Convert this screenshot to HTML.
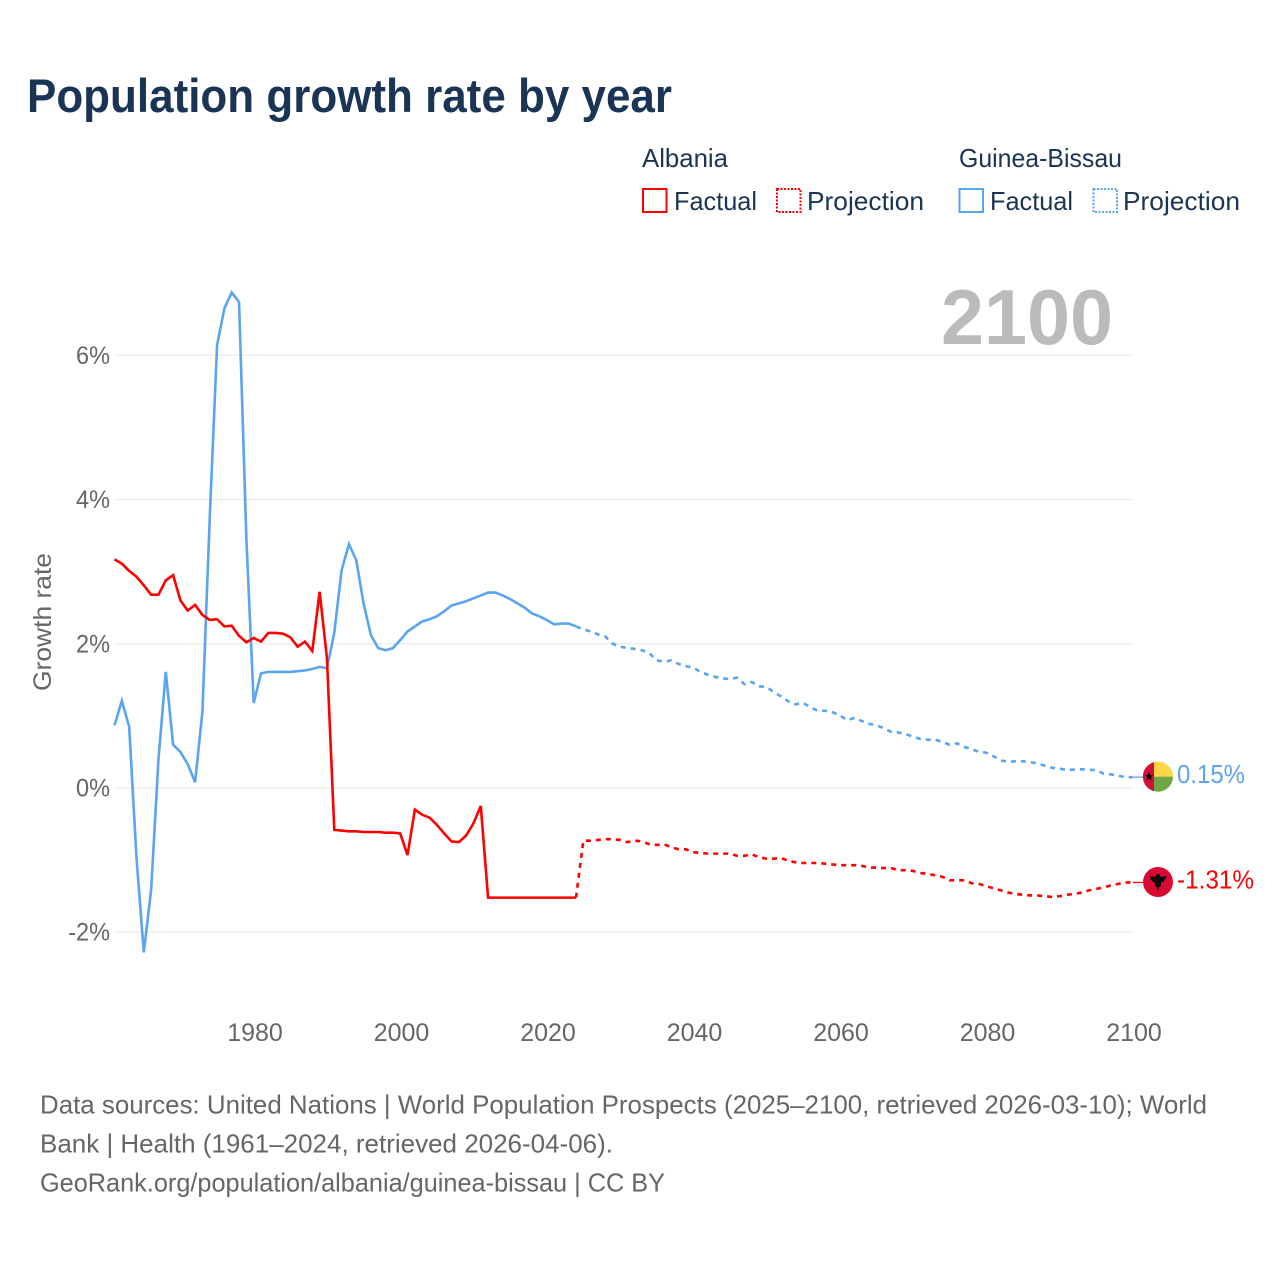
<!DOCTYPE html>
<html lang="en">
<head>
<meta charset="utf-8">
<title>Population growth rate by year</title>
<style>
html,body{margin:0;padding:0;background:#fff;width:1280px;height:1280px;overflow:hidden}
svg{display:block}
text{font-family:"Liberation Sans",sans-serif}
.leg{font-size:26px;fill:#1c3454}
.foot{font-size:26px;fill:#666}
.tick{font-size:25px;fill:#666}
</style>
</head>
<body>
<svg id="chart" width="1280" height="1280" viewBox="0 0 1280 1280" xmlns="http://www.w3.org/2000/svg">
  <rect width="1280" height="1280" fill="#fff"/>
  <text x="27" y="112" font-size="47" font-weight="700" fill="#1a3455" textLength="645" lengthAdjust="spacingAndGlyphs">Population growth rate by year</text>

  <g>
    <text class="leg" x="642" y="167" textLength="86" lengthAdjust="spacingAndGlyphs">Albania</text>
    <rect x="643" y="189" width="23.5" height="23" fill="none" stroke="#ff0000" stroke-width="2"/>
    <text class="leg" x="674" y="210" textLength="83" lengthAdjust="spacingAndGlyphs">Factual</text>
    <rect x="777" y="189" width="23.5" height="23" fill="none" stroke="#ff0000" stroke-width="2" stroke-dasharray="2 1.5"/>
    <text class="leg" x="807" y="210" textLength="117" lengthAdjust="spacingAndGlyphs">Projection</text>
    <text class="leg" x="959" y="167" textLength="163" lengthAdjust="spacingAndGlyphs">Guinea-Bissau</text>
    <rect x="959.5" y="189" width="23.5" height="23" fill="none" stroke="#5aa5ef" stroke-width="2"/>
    <text class="leg" x="990" y="210" textLength="83" lengthAdjust="spacingAndGlyphs">Factual</text>
    <rect x="1093.5" y="189" width="23.5" height="23" fill="none" stroke="#5aa5ef" stroke-width="2" stroke-dasharray="2 1.5"/>
    <text class="leg" x="1123" y="210" textLength="117" lengthAdjust="spacingAndGlyphs">Projection</text>
  </g>

  <g id="grid"></g>
  <g id="yticks"></g>
  <g id="xticks"></g>
  <text id="yearLabel" x="1113" y="344" text-anchor="end" font-size="78" font-weight="700" fill="#bbbbbb" textLength="172" lengthAdjust="spacingAndGlyphs"></text>
  <text class="tick" transform="translate(51,622) rotate(-90)" text-anchor="middle" textLength="138" lengthAdjust="spacingAndGlyphs">Growth rate</text>
  <g id="series"></g>
  <g id="markers"></g>

  <g>
    <text class="foot" x="40" y="1113.5" textLength="1167" lengthAdjust="spacingAndGlyphs">Data sources: United Nations | World Population Prospects (2025–2100, retrieved 2026-03-10); World</text>
    <text class="foot" x="40" y="1152.5" textLength="573" lengthAdjust="spacingAndGlyphs">Bank | Health (1961–2024, retrieved 2026-04-06).</text>
    <text class="foot" x="40" y="1191.5" textLength="625" lengthAdjust="spacingAndGlyphs">GeoRank.org/population/albania/guinea-bissau | CC BY</text>
  </g>
</svg>
<script>
const factualStartYear = 1961;
const projectionStartYear = 2024;
const xTickYears = [1980, 2000, 2020, 2040, 2060, 2080, 2100];
const yTickValues = [6, 4, 2, 0, -2];
const albaniaFactual = [
  3.17,3.11,3.01,2.93,2.81,2.68,2.68,2.88,2.95,2.6,
  2.46,2.54,2.4,2.33,2.34,2.24,2.25,2.11,2.02,2.08,
  2.03,2.15,2.15,2.14,2.09,1.96,2.03,1.9,2.72,1.8,
  -0.58,-0.59,-0.6,-0.6,-0.61,-0.61,-0.61,-0.62,-0.62,-0.63,
  -0.93,-0.3,-0.37,-0.41,-0.51,-0.63,-0.74,-0.75,-0.66,-0.49,
  -0.25,-1.52,-1.52,-1.52,-1.52,-1.52,-1.52,-1.52,-1.52,-1.52,
  -1.52,-1.52,-1.52,-1.52
];
const albaniaProjection = [
  -1.52,-0.73,-0.73,-0.72,-0.71,-0.71,-0.72,-0.75,-0.73,-0.74,
  -0.78,-0.79,-0.78,-0.82,-0.85,-0.85,-0.89,-0.9,-0.91,-0.91,
  -0.91,-0.91,-0.94,-0.94,-0.92,-0.96,-0.98,-0.98,-0.97,-1.01,
  -1.03,-1.04,-1.04,-1.04,-1.05,-1.06,-1.07,-1.07,-1.07,-1.08,
  -1.1,-1.105,-1.11,-1.11,-1.14,-1.14,-1.15,-1.18,-1.19,-1.21,
  -1.23,-1.28,-1.28,-1.28,-1.32,-1.33,-1.36,-1.39,-1.42,-1.45,
  -1.47,-1.48,-1.49,-1.49,-1.5,-1.51,-1.5,-1.48,-1.47,-1.45,
  -1.42,-1.4,-1.38,-1.35,-1.33,-1.31,-1.31
];
const guineaFactual = [
  0.87,1.21,0.85,-0.97,-2.28,-1.41,0.4,1.61,0.6,0.5,
  0.33,0.08,1.06,3.75,6.14,6.65,6.87,6.74,3.45,1.18,
  1.59,1.61,1.61,1.61,1.61,1.62,1.63,1.65,1.68,1.66,
  2.15,3.02,3.38,3.16,2.56,2.12,1.94,1.91,1.94,2.05,
  2.17,2.24,2.31,2.34,2.38,2.45,2.53,2.56,2.59,2.63,
  2.67,2.71,2.71,2.67,2.62,2.56,2.5,2.42,2.38,2.33,
  2.27,2.28,2.28,2.24
];
const guineaProjection = [
  2.24,2.2,2.17,2.13,2.1,2,1.96,1.94,1.93,1.91,
  1.87,1.77,1.75,1.77,1.72,1.69,1.67,1.61,1.57,1.54,
  1.52,1.51,1.53,1.44,1.47,1.41,1.4,1.33,1.27,1.2,
  1.16,1.18,1.12,1.07,1.07,1.05,1.01,0.94,0.97,0.93,
  0.89,0.87,0.83,0.78,0.77,0.75,0.71,0.68,0.67,0.67,
  0.64,0.6,0.62,0.57,0.54,0.5,0.49,0.44,0.38,0.365,
  0.37,0.37,0.36,0.34,0.31,0.28,0.27,0.25,0.255,0.26,
  0.25,0.25,0.2,0.19,0.17,0.15,0.15
];
const albaniaColor = '#ff0000';
const guineaColor = '#5aa5ef';
const NS = 'http://www.w3.org/2000/svg';

function xScale(year) { return 253.7 + (year - 1980) * 7.325; }
function xTickPos(year) { return 255 + (year - 1980) * 7.325; }
function yScale(value) { return 788 - value * 72.12; }
function make(tag, attrs) {
  const el = document.createElementNS(NS, tag);
  for (const k in attrs) el.setAttribute(k, attrs[k]);
  return el;
}
function pointsFrom(values, startYear) {
  return values.map((v, i) => xScale(startYear + i).toFixed(2) + ',' + yScale(v).toFixed(2)).join(' ');
}

const gridGroup = document.getElementById('grid');
const yTickGroup = document.getElementById('yticks');
yTickValues.forEach(v => {
  const line = make('line', {x1: 115, x2: 1133, y1: yScale(v), y2: yScale(v), stroke: '#ececec', 'stroke-width': 1.2});
  
  
  gridGroup.appendChild(line);
  const label = make('text', {x: 110, y: yScale(v) + 8.5, 'text-anchor': 'end', class: 'tick'});
  
  
  label.textContent = v + '%';
  yTickGroup.appendChild(label);
  label.setAttribute('textLength', (label.getComputedTextLength() * 0.94).toFixed(1));
  label.setAttribute('lengthAdjust', 'spacingAndGlyphs');
});

const xTickGroup = document.getElementById('xticks');
xTickYears.forEach(year => {
  const label = make('text', {x: xTickPos(year), y: 1041, 'text-anchor': 'middle', class: 'tick', 'font-size': 25.5});
  
  
  label.textContent = year;
  xTickGroup.appendChild(label);
});

const lastYear = projectionStartYear + albaniaProjection.length - 1;
document.getElementById('yearLabel').textContent = lastYear;

const seriesGroup = document.getElementById('series');
function drawLine(values, startYear, color, dashed, name) {
  const line = make('polyline', {
    points: pointsFrom(values, startYear),
    fill: 'none',
    stroke: color,
    'stroke-width': 2.6,
    'stroke-linejoin': 'miter'
  });
  if (dashed) line.setAttribute('stroke-dasharray', '5 5');
  
  
  seriesGroup.appendChild(line);
}
drawLine(guineaFactual, factualStartYear, guineaColor, false, 'guinea-bissau-factual-line');
drawLine(guineaProjection, projectionStartYear, guineaColor, true, 'guinea-bissau-projection-line');
drawLine(albaniaFactual, factualStartYear, albaniaColor, false, 'albania-factual-line');
drawLine(albaniaProjection, projectionStartYear, albaniaColor, true, 'albania-projection-line');

const markerGroup = document.getElementById('markers');
function drawEnd(value, color, name, flagFn, labelWidth) {
  const cy = yScale(value);
  const cx = 1158;
  const g = make('g', {});
  
  
  const link = make('line', {x1: xScale(lastYear), x2: cx - 14, y1: cy, y2: cy, stroke: color, 'stroke-width': 1.3});
  
  
  g.appendChild(link);
  flagFn(g, cx, cy - 0.5);
  const label = make('text', {x: 1177, y: cy + 6, 'font-size': 25.5, fill: color, textLength: labelWidth, lengthAdjust: 'spacingAndGlyphs'});
  
  
  label.textContent = value.toFixed(2) + '%';
  g.appendChild(label);
  markerGroup.appendChild(g);
}
function star(cx, cy, r) {
  const pts = [];
  for (let i = 0; i < 10; i++) {
    const rad = i % 2 ? r * 0.42 : r;
    const a = -Math.PI / 2 + i * Math.PI / 5;
    pts.push((cx + rad * Math.cos(a)).toFixed(2) + ',' + (cy + rad * Math.sin(a)).toFixed(2));
  }
  return pts.join(' ');
}
function guineaFlag(g, cx, cy) {
  const r = 15;
  const flag = make('g', {});
  
  
  const red = make('path', {d: `M${cx-4} ${cy-r+0.5}A${r} ${r} 0 0 0 ${cx-4} ${cy+r-0.5}Z`, fill: '#d3103a'});
  const yellow = make('path', {d: `M${cx-4} ${cy-r+0.5}A${r} ${r} 0 0 1 ${cx+r} ${cy}L${cx-4} ${cy}Z`, fill: '#fdd545'});
  const green = make('path', {d: `M${cx-4} ${cy}L${cx+r} ${cy}A${r} ${r} 0 0 1 ${cx-4} ${cy+r-0.5}Z`, fill: '#70a745'});
  const starEl = make('polygon', {points: star(cx - 9, cy, 4.5), fill: '#000'});
  [red, yellow, green, starEl].forEach(p => flag.appendChild(p));
  g.appendChild(flag);
}
function albaniaFlag(g, cx, cy) {
  const flag = make('g', {});
  
  
  const disc = make('circle', {cx: cx, cy: cy, r: 15, fill: '#d80a32'});
  const eagle = make('path', {
    d: `M${cx-9} ${cy-6}L${cx-3} ${cy-5}L${cx-1} ${cy-8}L${cx+1} ${cy-8}L${cx+3} ${cy-5}L${cx+9} ${cy-6}L${cx+6} ${cy-1}L${cx+3} ${cy+1}L${cx+3} ${cy+4}L${cx+1} ${cy+5}L${cx} ${cy+9}L${cx-1} ${cy+5}L${cx-3} ${cy+4}L${cx-3} ${cy+1}L${cx-6} ${cy-1}Z`,
    fill: '#0a0a0a'
  });
  flag.appendChild(disc);
  flag.appendChild(eagle);
  g.appendChild(flag);
}
drawEnd(guineaProjection[guineaProjection.length - 1], guineaColor, 'guinea-bissau', guineaFlag, 68);
drawEnd(albaniaProjection[albaniaProjection.length - 1], albaniaColor, 'albania', albaniaFlag, 77);
</script>
</body>
</html>
